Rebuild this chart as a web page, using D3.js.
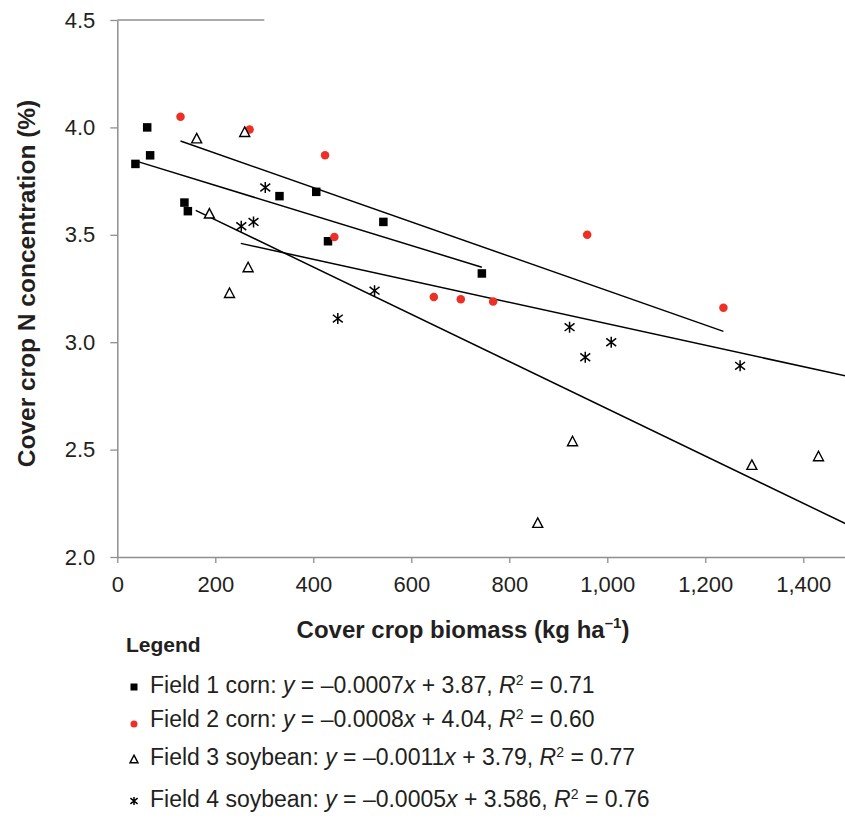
<!DOCTYPE html>
<html>
<head>
<meta charset="utf-8">
<script src="https://cdn.jsdelivr.net/npm/d3@7"></script>
<style>
  html, body { margin: 0; padding: 0; background: #fff; }
  svg { display: block; }
</style>
</head>
<body>
<svg id="chart" width="845" height="831"></svg>
<script>
// ---- Data ----
const field1Corn = [[37,3.83],[61,4.00],[67,3.87],[137,3.65],[144,3.61],[331,3.68],[406,3.70],[430,3.47],[543,3.56],[744,3.32]];
const field2Corn = [[129,4.05],[270,3.99],[424,3.87],[443,3.49],[646,3.21],[701,3.20],[767,3.19],[959,3.50],[1237,3.16]];
const field3Soy  = [[162,3.95],[260,3.98],[188,3.60],[229,3.23],[267,3.35],[858,2.16],[929,2.54],[1295,2.43],[1431,2.47]];
const field4Soy  = [[253,3.54],[278,3.56],[302,3.72],[450,3.11],[525,3.24],[923,3.07],[955,2.93],[1008,3.00],[1271,2.89]];

const seriesNames = ["Field 1 corn", "Field 2 corn", "Field 3 soybean", "Field 4 soybean"];
const slopes      = [-0.0007, -0.0008, -0.0011, -0.0005];
const intercepts  = [3.87, 4.04, 3.79, 3.586];
const slopeLabels = ["–0.0007", "–0.0008", "–0.0011", "–0.0005"];
const interceptLabels = ["3.87", "4.04", "3.79", "3.586"];
const r2Labels    = ["0.71", "0.60", "0.77", "0.76"];
const lineStart   = [37, 129, 160, 252];
const lineEnd     = [744, 1237, 1500, 1500];

const xTicks = [0, 200, 400, 600, 800, 1000, 1200, 1400];
const yTicks = [2.0, 2.5, 3.0, 3.5, 4.0, 4.5];

const allSeries = [field1Corn, field2Corn, field3Soy, field4Soy];
const symbols = ["square", "circle", "triangle", "asterisk"];

// ---- Layout ----
const svg = d3.select("#chart");
const x = d3.scaleLinear().domain([0, 1500]).range([117.3, 117.3 + 1500 * 0.49]);
const y = d3.scaleLinear().domain([2, 4.5]).range([557, 20]);
const axisColor = "#8f8f8f";
const textColor = "#231f20";
const font = "'Liberation Sans', Arial, sans-serif";

// Y axis
const yAxis = svg.append("g")
  .attr("transform", `translate(${x(0)},0)`)
  .call(d3.axisLeft(y).tickValues(yTicks).tickFormat(d3.format(".1f")).tickSize(7).tickSizeOuter(0).tickPadding(15));
yAxis.select(".domain").attr("stroke", axisColor).attr("stroke-width", 1.5);
yAxis.selectAll(".tick line").attr("stroke", axisColor).attr("stroke-width", 1.3);
yAxis.selectAll(".tick text")
  .attr("fill", textColor)
  .style("font-family", font)
  .style("font-size", "22px");

// top border line at 4.5
svg.append("line")
  .attr("x1", x(0)).attr("x2", x(300))
  .attr("y1", y(4.5)).attr("y2", y(4.5))
  .attr("stroke", axisColor).attr("stroke-width", 1.3);

// X axis
const xAxis = svg.append("g")
  .attr("transform", `translate(0,${y(2)})`)
  .call(d3.axisBottom(x).tickValues(xTicks).tickFormat(d3.format(",")).tickSize(6).tickSizeOuter(0).tickPadding(13));
xAxis.select(".domain").attr("stroke", axisColor).attr("stroke-width", 1.5);
xAxis.selectAll(".tick line").attr("stroke", axisColor).attr("stroke-width", 1.3);
xAxis.selectAll(".tick text")
  .attr("fill", textColor)
  .style("font-family", font)
  .style("font-size", "22px");

// Axis titles
svg.append("text")
  .attr("transform", `translate(35,${(y(4.5) + y(2)) / 2 - 5}) rotate(-90)`)
  .attr("text-anchor", "middle")
  .attr("fill", textColor)
  .style("font-family", font)
  .style("font-weight", "bold")
  .style("font-size", "24.5px")
  .text("Cover crop N concentration (%)");

const xt = svg.append("text")
  .attr("x", 463).attr("y", 638)
  .attr("text-anchor", "middle")
  .attr("fill", textColor)
  .style("font-family", font)
  .style("font-weight", "bold")
  .style("font-size", "24px");
xt.append("tspan").text("Cover crop biomass (kg ha");
xt.append("tspan").attr("dy", -10).style("font-size", "15px").text("–1");
xt.append("tspan").attr("dy", 10).text(")");

// Symbol drawing
function drawSymbol(g, type, s) {
  if (type === "square") {
    g.append("rect").attr("x", -s/2).attr("y", -s/2).attr("width", s).attr("height", s).attr("fill", "#000");
  } else if (type === "circle") {
    g.append("circle").attr("r", s/2).attr("fill", "#ed2f24");
  } else if (type === "triangle") {
    const h = s * 0.95;
    g.append("path")
      .attr("d", `M0,${-h/2}L${s/2},${h/2}L${-s/2},${h/2}Z`)
      .attr("fill", "#fff").attr("stroke", "#000").attr("stroke-width", 1.4).attr("stroke-linejoin", "miter");
  } else if (type === "asterisk") {
    const r = s / 2;
    const dx = r * 0.9, dy = r * 0.7;
    g.append("path")
      .attr("d", `M0,${-r}L0,${r}M${-dx},${-dy}L${dx},${dy}M${dx},${-dy}L${-dx},${dy}`)
      .attr("stroke", "#000").attr("stroke-width", 1.5).attr("fill", "none");
  }
}

// Trend lines
const lineGen = d3.line().x(d => x(d[0])).y(d => y(d[1]));
seriesNames.forEach((name, i) => {
  const pts = [lineStart[i], lineEnd[i]].map(v => [v, slopes[i] * v + intercepts[i]]);
  svg.append("path")
    .attr("d", lineGen(pts))
    .attr("fill", "none").attr("stroke", "#000").attr("stroke-width", 1.5);
});

// Points
const markerSizes = [8.5, 8.5, 10, 11];
allSeries.forEach((data, i) => {
  const g = svg.append("g");
  data.forEach(d => {
    const p = g.append("g").attr("transform", `translate(${x(d[0])},${y(d[1])})`);
    drawSymbol(p, symbols[i], markerSizes[i]);
  });
});

// Legend
svg.append("text")
  .attr("x", 126).attr("y", 652)
  .attr("fill", textColor)
  .style("font-family", font)
  .style("font-weight", "bold")
  .style("font-size", "21px")
  .text("Legend");

const legendSizes = [7, 7, 8, 8];
const legendY = [693, 727, 765, 807];
seriesNames.forEach((name, i) => {
  const by = legendY[i];
  const m = svg.append("g").attr("transform", `translate(134,${by - (i === 1 ? 3 : 6)})`);
  drawSymbol(m, symbols[i], legendSizes[i]);
  const t = svg.append("text")
    .attr("x", 150).attr("y", by)
    .attr("fill", textColor)
    .style("font-family", font)
    .style("font-size", "23px");
  t.append("tspan").text(name + ": ");
  t.append("tspan").style("font-style", "italic").text("y");
  t.append("tspan").text(" = " + slopeLabels[i]);
  t.append("tspan").style("font-style", "italic").text("x");
  t.append("tspan").text(" + " + interceptLabels[i] + ", ");
  t.append("tspan").style("font-style", "italic").text("R");
  t.append("tspan").attr("dy", -8).style("font-size", "14px").text("2");
  t.append("tspan").attr("dy", 8).text(" = " + r2Labels[i]);
});
</script>
</body>
</html>
